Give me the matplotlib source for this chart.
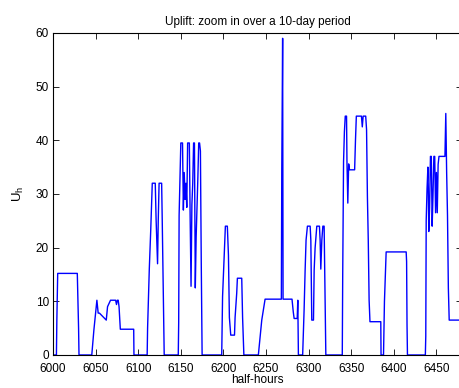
import matplotlib.pyplot as plt

plt.rcParams['font.family'] = ['Liberation Sans', 'DejaVu Sans']

# uplift values (vertices of the step-like trace)
halfHours = [6000, 6004, 6004.5, 6005.5, 6028.5, 6030, 6030.5,
             6045.5, 6048, 6049.5, 6051.5, 6053, 6054.5, 6062.5, 6064, 6067.5, 6073.5, 6074.5, 6075.5,
             6076.5, 6077.5, 6079, 6094.7, 6095,
             6110.5, 6111, 6113, 6114.7, 6116.5, 6120, 6121, 6122.7, 6123.5, 6124.5, 6127.5, 6128.2, 6130, 6130.5,
             6147, 6147.5, 6148, 6150, 6152, 6153, 6154, 6155, 6156, 6157, 6158, 6160, 6161, 6162,
             6163, 6164, 6165, 6166, 6167, 6168, 6170, 6171, 6172, 6173, 6174, 6175,
             6198, 6199, 6202.3, 6204.6, 6205.9, 6207, 6208.6, 6213, 6213.7, 6215.6, 6216.4, 6221.5, 6222.5, 6224,
             6241, 6245, 6248.9, 6268, 6268.5, 6269.5, 6270, 6280.5, 6282, 6283, 6286.6, 6287.3, 6288,
             6293, 6294.7, 6295.9, 6297, 6298.6, 6301.8, 6302.6, 6303.7, 6305.7, 6306.5, 6307.6, 6309.6,
             6312.7, 6313.5, 6314.3, 6315.5, 6316.7, 6318.2, 6319.4, 6320.2,
             6339.5, 6340, 6341, 6342, 6343, 6344.5, 6345, 6346, 6347, 6348, 6354, 6355, 6356, 6362, 6363, 6364,
             6367, 6368, 6369, 6370, 6371, 6372, 6384.7, 6385,
             6387.9, 6389, 6391, 6414.5, 6415, 6415.5, 6416,
             6437, 6437.5, 6438, 6439, 6440, 6440.5, 6441, 6442, 6443, 6444, 6445, 6446, 6447, 6448, 6449,
             6450, 6451, 6452, 6453, 6460, 6461, 6462, 6463, 6464, 6465, 6480]
uplift = [0, 0, 6.5, 15.2, 15.2, 5, 0,
          0, 4.7, 7.1, 10.2, 7.8, 7.8, 6.5, 9, 10.2, 10.2, 9.4, 10.2,
          10.2, 9, 4.8, 4.8, 0,
          0, 5, 16, 23.3, 32, 32, 25.2, 17, 25, 32, 32, 25, 5, 0,
          0, 6, 26, 39.5, 39.5, 27, 34, 29, 32, 27.5, 39.5, 39.5, 25, 12.8,
          28, 32, 39.5, 39.5, 12.5, 22, 33, 39.5, 39.5, 38, 17, 0,
          0, 10.9, 24, 24, 18.6, 7, 3.7, 3.7, 7, 11.5, 14.3, 14.3, 7, 0,
          0, 6.5, 10.4, 10.4, 34.5, 59, 10.4, 10.4, 8, 6.8, 6.8, 10.2, 0,
          0, 8.4, 15.8, 21.4, 24, 24, 21.4, 6.5, 6.5, 15.8, 19.9, 24,
          24, 21.4, 16, 21.4, 24, 24, 9.3, 0,
          0, 14.6, 36, 41.6, 44.5, 44.5, 36, 28.3, 35.6, 34.5, 34.5, 40, 44.5, 44.5, 42.5, 44.5,
          44.5, 42, 29.5, 21.4, 10.2, 6.2, 6.2, 0,
          0, 10, 19.2, 19.2, 17.4, 5.6, 0,
          0, 3.5, 25, 31, 35, 31, 23, 27.5, 37, 37, 24, 30, 37, 37, 26.5,
          34, 26.5, 35.5, 37, 37, 45, 34, 26, 12.5, 6.5, 6.5]

xTicks = [6000, 6050, 6100, 6150, 6200, 6250, 6300, 6350, 6400, 6450]
yTicks = [0, 10, 20, 30, 40, 50, 60]

fig = plt.figure(figsize=(4.59, 3.88), dpi=100)
ax = fig.add_axes([0.1155, 0.0851, 0.891, 0.830])
ax.plot(halfHours, uplift, color='#0000ff', linewidth=1.0)

ax.set_xlim(6000, 6480)
ax.set_ylim(0, 60)
ax.set_xticks(xTicks)
ax.set_yticks(yTicks)
ax.tick_params(direction='in', top=True, right=True, length=4, width=0.6, labelsize=8.5)
ax.tick_params(axis='x', pad=6)
ax.tick_params(axis='y', pad=3)
for s in ax.spines.values():
    s.set_linewidth(0.8)

ax.set_title("Uplift: zoom in over a 10-day period", fontsize=8.5, pad=6)
ax.set_xlabel("half-hours", fontsize=8.5, labelpad=-1)
ax.set_ylabel(r"U$_\mathregular{h}$", fontsize=9.5, labelpad=7)

plt.savefig('out.png', dpi=100)
